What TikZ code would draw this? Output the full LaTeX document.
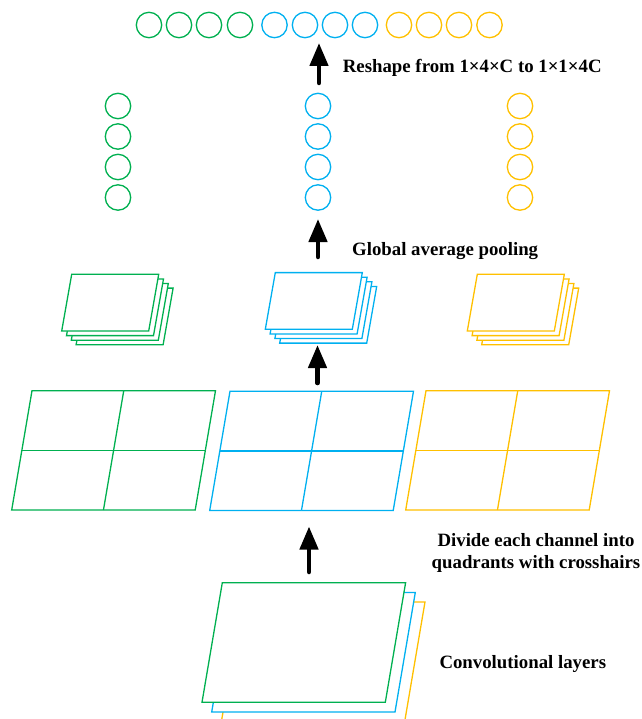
\documentclass[tikz,border=0pt]{standalone}
\usepackage{fontspec}
\setmainfont{Liberation Serif}
\usetikzlibrary{arrows.meta}
\definecolor{cg}{HTML}{00B050}
\definecolor{cb}{HTML}{00B0F0}
\definecolor{cy}{HTML}{FFC000}
\tikzset{
 circ/.style={circle, draw=#1, line width=1.3pt, minimum size=25.4pt, inner sep=0pt},
 sheet/.style={draw=#1, line width=1.3pt, fill=white, line join=miter},
 bigarrow/.style={line width=4.5pt, line cap=round, -{Triangle[length=23pt,width=18pt]}},
 lbl/.style={font=\bfseries\fontsize{18.8}{21.5}\selectfont, inner sep=0pt}
}
% plate: color, xBL, yBL, width, height, skew
\newcommand\myplate[6]{\draw[sheet=#1] (#2+#6,#3-#5) -- (#2+#6+#4,#3-#5) -- (#2+#4,#3) -- (#2,#3) -- cycle;}
\newcommand\mygrid[6]{\myplate{#1}{#2}{#3}{#4}{#5}{#6}
  \draw[sheet=#1] (#2+#6/2,#3-#5/2) -- (#2+#6/2+#4,#3-#5/2);
  \draw[sheet=#1] (#2+#6+#4/2,#3-#5) -- (#2+#4/2,#3);}
\begin{document}
\begin{tikzpicture}[x=1pt,y=-1pt]
\path[use as bounding box] (0,0) rectangle (641,719);
\clip (0,0) rectangle (641,719);

% top row of circles
\foreach \x [count=\i] in {149,179,209,240} {\node[circ=cg] (tg\i) at (\x,25) {};}
\foreach \x [count=\i] in {274.5,305,335,365} {\node[circ=cb] (tb\i) at (\x,25) {};}
\foreach \x [count=\i] in {399,429,459,489.5} {\node[circ=cy] (ty\i) at (\x,25) {};}

% columns of circles
\foreach \y [count=\i] in {106,136.5,167,197.5} {
  \node[circ=cg] (cg\i) at (118,\y) {};
  \node[circ=cb] (cb\i) at (318,\y) {};
  \node[circ=cy] (cy\i) at (520,\y) {};
}

% stacks of pooled sheets
\foreach \k in {3,2,1,0} {
  \myplate{cg}{61.7+4.8*\k}{331+4.6*\k}{87}{56.7}{10}
  \myplate{cb}{265.3+4.8*\k}{329.3+4.6*\k}{87}{56.7}{10}
  \myplate{cy}{467.3+4.8*\k}{331+4.6*\k}{87}{56.7}{10}
}

% quadrant grids
\mygrid{cg}{11.7}{510}{183.5}{119.3}{20.3}
\mygrid{cb}{209.7}{510.5}{183.5}{119.3}{20.3}
\mygrid{cy}{405.7}{510}{183.5}{119.3}{20.3}

% convolutional layers
\myplate{cy}{221.4}{721.5}{183.3}{119.6}{20.3}
\myplate{cb}{211.7}{712}{183.3}{119.6}{20.3}
\myplate{cg}{202}{702.3}{183.3}{119.6}{20.3}

% arrows
\coordinate (a1s) at (319,83);   \coordinate (a1e) at (319,43);
\coordinate (a2s) at (318,257);  \coordinate (a2e) at (318,219);
\coordinate (a3s) at (317.5,383);\coordinate (a3e) at (317.5,345);
\coordinate (a4s) at (309,572);  \coordinate (a4e) at (309,526.5);
\draw[bigarrow] (a1s) -- (a1e);
\draw[bigarrow] (a2s) -- (a2e);
\draw[bigarrow] (a3s) -- (a3e);
\draw[bigarrow] (a4s) -- (a4e);

% labels
\node[lbl, anchor=base west] (t1) at (342.7,72.3) {Reshape from 1×4×C to 1×1×4C};
\node[lbl, anchor=base west] (t2) at (352,255) {Global average pooling};
\node[lbl, align=center, anchor=base] (t3) at (536,568) {Divide each channel into\\quadrants with crosshairs};
\node[lbl, anchor=base west] (t4) at (439.3,668) {Convolutional layers};
\end{tikzpicture}
\end{document}
